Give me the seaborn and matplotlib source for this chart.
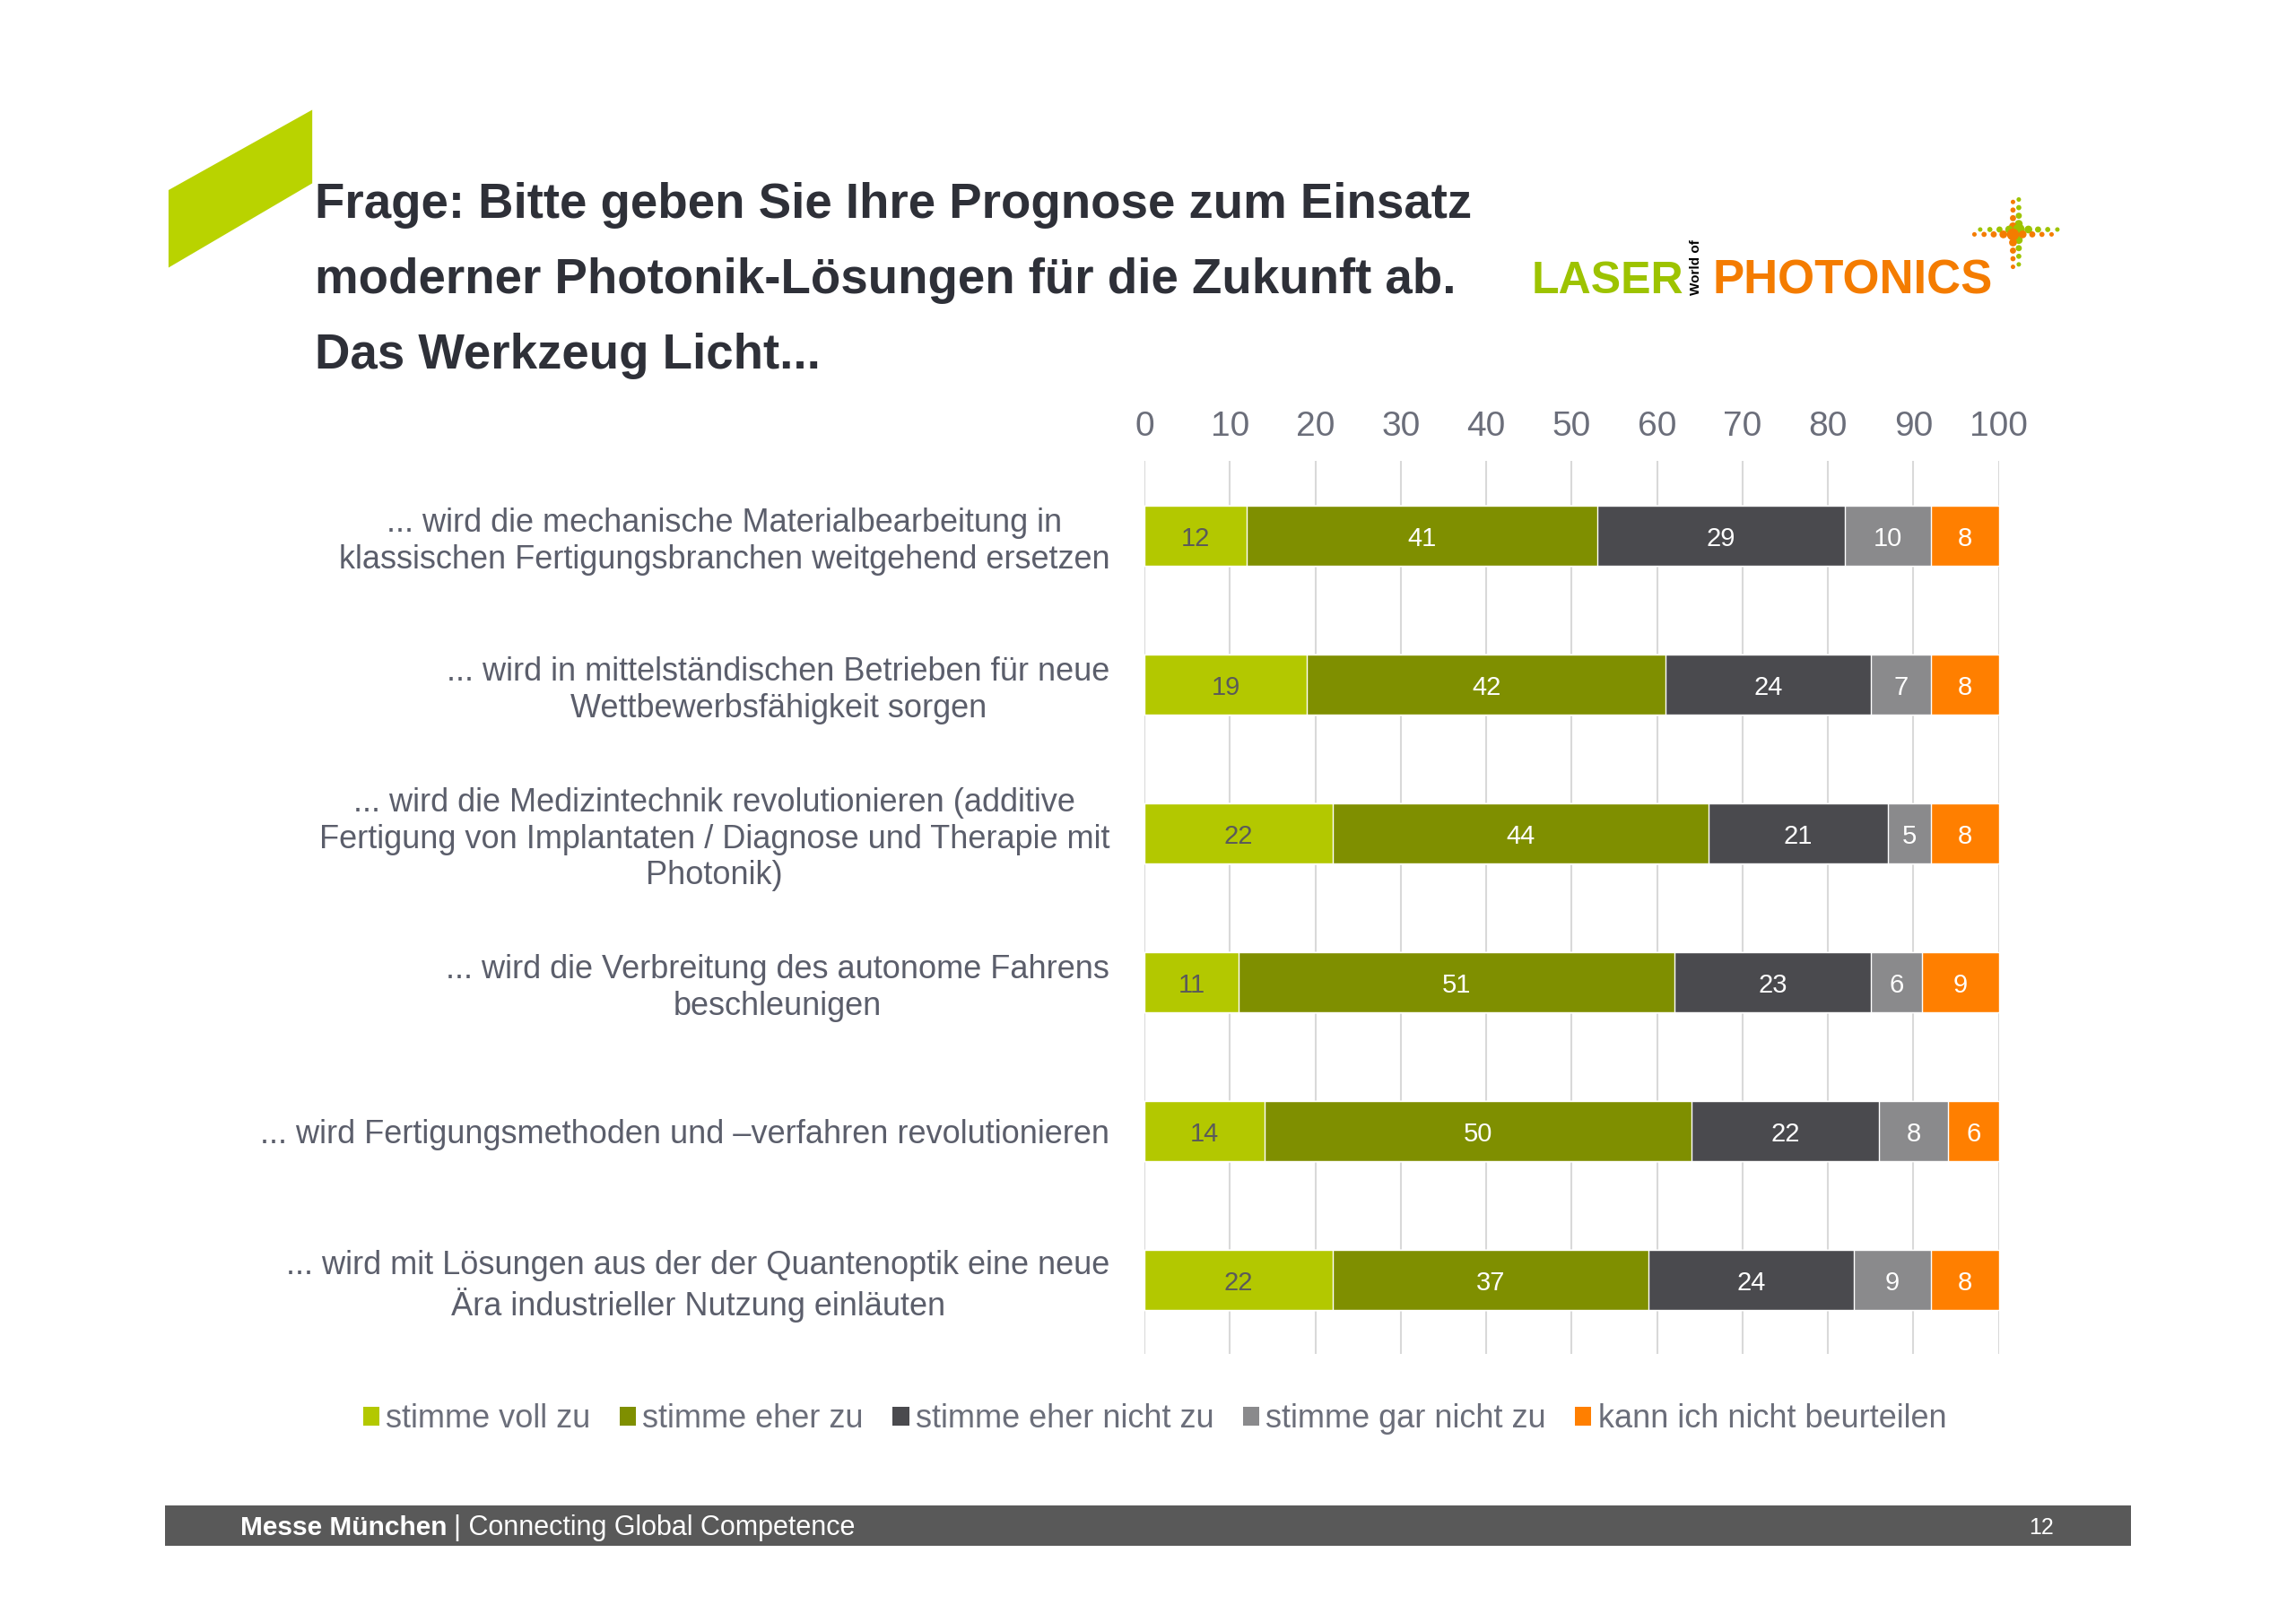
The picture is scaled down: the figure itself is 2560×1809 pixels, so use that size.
import numpy as np
import pandas as pd
import matplotlib
matplotlib.use('Agg')
import matplotlib.pyplot as plt
from matplotlib.patches import Polygon, Rectangle, Patch
from matplotlib.text import Annotation
import seaborn as sns

# survey data (percent)
statements = [
    "... wird die mechanische Materialbearbeitung in\nklassischen Fertigungsbranchen weitgehend ersetzen",
    "... wird in mittelständischen Betrieben für neue\nWettbewerbsfähigkeit sorgen",
    "... wird die Medizintechnik revolutionieren (additive\nFertigung von Implantaten / Diagnose und Therapie mit\nPhotonik)",
    "... wird die Verbreitung des autonome Fahrens\nbeschleunigen",
    "... wird Fertigungsmethoden und \u2013verfahren revolutionieren",
    "... wird mit Lösungen aus der der Quantenoptik eine neue\nÄra industrieller Nutzung einläuten",
]
answers = ["stimme voll zu", "stimme eher zu", "stimme eher nicht zu",
           "stimme gar nicht zu", "kann ich nicht beurteilen"]
voll_zu = [12, 19, 22, 11, 14, 22]
eher_zu = [41, 42, 44, 51, 50, 37]
eher_nicht_zu = [29, 24, 21, 23, 22, 24]
gar_nicht_zu = [10, 7, 5, 6, 8, 9]
kann_nicht = [8, 8, 8, 9, 6, 8]
x_ticks = [0, 10, 20, 30, 40, 50, 60, 70, 80, 90, 100]

colors = ["#b3c800", "#7f8f00", "#4a4a4e", "#8a8a8c", "#ff7f00"]
label_colors = ["#5a5a5a", "white", "white", "white", "white"]

sns.set_theme(style="white")
plt.rcParams['font.family'] = ['Liberation Sans', 'DejaVu Sans']

df = pd.DataFrame({"statement": statements,
                   answers[0]: voll_zu, answers[1]: eher_zu,
                   answers[2]: eher_nicht_zu, answers[3]: gar_nicht_zu,
                   answers[4]: kann_nicht})
cum = df[answers].cumsum(axis=1)

fig = plt.figure(figsize=(25.6, 18.09), dpi=100)
ax = fig.add_axes([0.4985, 0.1651, 0.3721, 0.5505])

# stacked bars: draw cumulative totals from widest to narrowest
for i in reversed(range(len(answers))):
    sns.barplot(x=cum[answers[i]], y=df["statement"], color=colors[i],
                saturation=1, width=0.4, orient="h", ax=ax, zorder=3)

for r in range(len(df)):
    for i, a in enumerate(answers):
        v = df.loc[r, a]
        ax.text(cum.loc[r, a] - v / 2, r + 0.02, str(v), ha="center", va="center",
                fontsize=21, color=label_colors[i], zorder=5)

ax.set_xlim(0, 100)
ax.set_ylim(len(df) - 0.5, -0.5)
ax.set_xticks(x_ticks)
ax.xaxis.tick_top()
ax.set_xlabel("")
ax.set_ylabel("")
ax.tick_params(axis="x", length=0, pad=15, labelsize=28, labelcolor="#6b6e7a")
ax.tick_params(axis="y", length=0, pad=28, labelsize=26, labelcolor="#5b5e6b")
for t in ax.get_yticklabels():
    t.set_multialignment("center")
    t.set_linespacing(1.2)
ax.xaxis.grid(True, color="#d9d9d9", lw=1.5, zorder=0)
ax.yaxis.grid(False)
sns.despine(ax=ax, left=True, bottom=True, top=True, right=True)

handles = [Patch(facecolor=c, edgecolor="none") for c in colors]
fig.legend(handles, answers, loc="center", bbox_to_anchor=(0.503, 0.125),
           ncol=5, frameon=False, fontsize=26, labelcolor="#6b6e7a",
           handlelength=0.5, handleheight=0.5, handletextpad=0.2,
           columnspacing=0.9)

# title
fig.text(0.137, 0.888, "Frage: Bitte geben Sie Ihre Prognose zum Einsatz\n"
         "moderner Photonik-Lösungen für die Zukunft ab.\nDas Werkzeug Licht...",
         ha="left", va="top", fontsize=39.3, fontweight="bold", color="#2e3038",
         linespacing=1.8)
fig.patches.append(Polygon([(0.0734, 0.8828), (0.1360, 0.9323), (0.1360, 0.8870),
                            (0.0734, 0.8350)], closed=True, facecolor="#b9d300",
                           edgecolor="none", transform=fig.transFigure))

# logo
fig.text(0.667, 0.819, "LASER", ha="left", va="baseline", fontsize=36,
         fontweight="heavy", color="#9dc300")
fig.text(0.7385, 0.835, "World of", ha="center", va="center", fontsize=11,
         fontweight="bold", rotation=90, color="black")
fig.text(0.746, 0.819, "PHOTONICS", ha="left", va="baseline", fontsize=38,
         fontweight="heavy", color="#f47c00")
lax = fig.add_axes([0.857, 0.832, 0.042, 0.05])
lax.set_axis_off()
steps = np.arange(-4, 5)
sizes = 90 / (1 + np.abs(steps)) ** 1.2
lax.scatter(np.full(9, 0.3), steps, s=sizes, color="#9dc300", lw=0)
lax.scatter(np.full(9, -0.3), steps - 0.3, s=sizes, color="#f47c00", lw=0)
lax.scatter(steps + 0.3, np.full(9, 0.3), s=sizes, color="#9dc300", lw=0)
lax.scatter(steps - 0.3, np.full(9, -0.3), s=sizes, color="#f47c00", lw=0)
lax.set_xlim(-5, 5)
lax.set_ylim(-5, 5)

# footer
fig.patches.append(Rectangle((0.0719, 0.0468), 0.8562, 0.0253, facecolor="#595959",
                             edgecolor="none", transform=fig.transFigure))
t1 = fig.text(0.1045, 0.0578, "Messe München ", ha="left", va="center", fontsize=21.5,
              fontweight="bold", color="white")
fig.add_artist(Annotation("| Connecting Global Competence", xy=(1, 0.5), xycoords=t1,
                          ha="left", va="center", fontsize=22, color="white",
                          annotation_clip=False))
fig.text(0.8945, 0.0578, "12", ha="right", va="center", fontsize=18, color="white")

fig.savefig("out.png", dpi=100, facecolor="white")
